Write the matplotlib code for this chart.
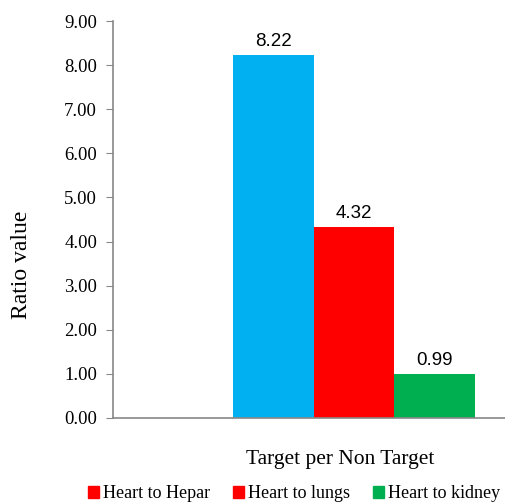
import matplotlib.pyplot as plt
from matplotlib.patches import Patch

series = ["Heart to Hepar", "Heart to lungs", "Heart to kidney"]
values = [8.22, 4.32, 0.99]
category = "Target per Non Target"
bar_colors = ["#00B0F0", "#FF0000", "#00B050"]
legend_colors = ["#FF0000", "#FF0000", "#00B050"]

plt.rcParams["font.family"] = ["Liberation Serif", "DejaVu Serif"]

fig = plt.figure(figsize=(5.06, 5.04), dpi=100)
ax = fig.add_axes([113 / 506, 86 / 504, 393 / 506, 397 / 504])

offsets = [-1, 0, 1]
bars = ax.bar(offsets, values, width=1.0, color=bar_colors)
for x, v in zip(offsets, values):
    ax.text(x, v + 0.13, f"{v:.2f}", ha="center", va="bottom",
            fontsize=13.5, family="Liberation Sans")

ax.set_xlim(-2.99, 1.89)
ax.set_ylim(0, 9)
ax.set_yticks(range(10))
ax.set_yticklabels([f"{t:.2f}" for t in range(10)], fontsize=13.5)
ax.set_xticks([])
ax.set_xlabel(category, fontsize=15.5, x=(340 - 113) / 393, labelpad=23)
ax.set_ylabel("Ratio value", fontsize=17)
ax.yaxis.set_label_coords(-(113 - 32) / 393, (418 - 265) / 397)

for s in ["top", "right"]:
    ax.spines[s].set_visible(False)
for s in ["left", "bottom"]:
    ax.spines[s].set_color("#888888")
    ax.spines[s].set_linewidth(1.2)
ax.tick_params(axis="y", colors="#888888", length=5, labelcolor="black", pad=6.5)

handles = [Patch(color=c) for c in legend_colors]
fig.legend(handles, series, loc="center", bbox_to_anchor=(294 / 506, 1 - 494 / 504),
           ncol=3, frameon=False, fontsize=13, handlelength=0.6, handleheight=0.6,
           handletextpad=0.2, columnspacing=1.3, borderpad=0, borderaxespad=0)

fig.savefig("out.png", dpi=100)
